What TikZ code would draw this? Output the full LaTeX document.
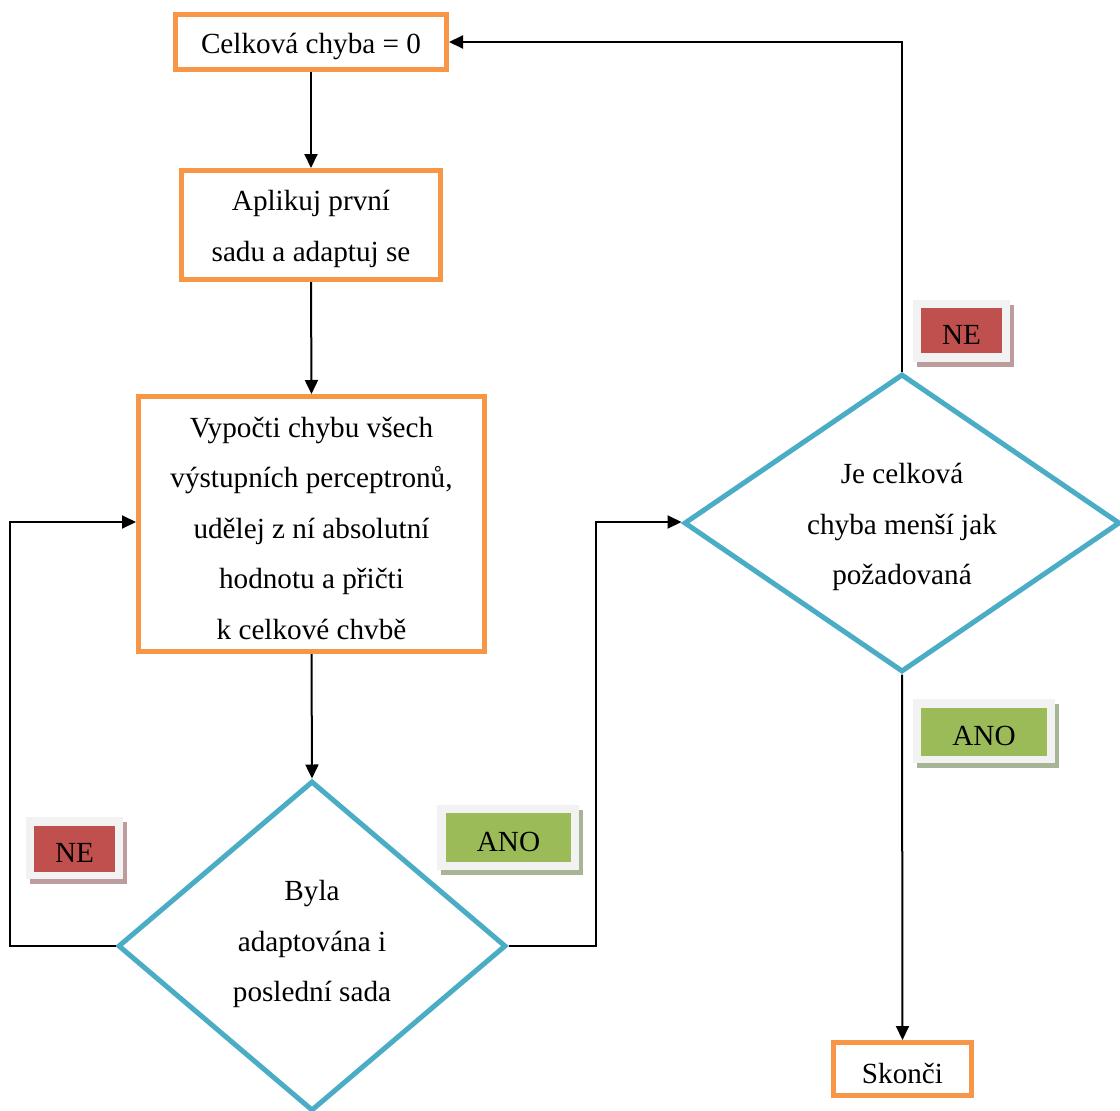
\documentclass[tikz,border=0pt]{standalone}
\usepackage{fontspec}
\setmainfont{Liberation Serif}
\usetikzlibrary{shapes.geometric,arrows.meta}

\definecolor{boxorange}{HTML}{F79646}
\definecolor{diablue}{HTML}{4BACC6}
\definecolor{nered}{HTML}{C0504D}
\definecolor{anogreen}{HTML}{9BBB59}
\definecolor{tagback}{HTML}{F2F2F2}
\definecolor{neshadow}{HTML}{BC9C9C}
\definecolor{anoshadow}{HTML}{A8B496}

\tikzset{
  txt/.style={font=\fontsize{29.2pt}{50.5pt}\selectfont, align=center},
  boxtext/.style={label={[txt,yshift=-4pt]center:#1}},
  procbox/.style={draw=boxorange, line width=5pt, fill=white, inner sep=0pt},
  decision/.style={diamond, draw=diablue, line width=5pt, fill=white, inner sep=0pt},
  flow/.style={line width=2pt, -{Triangle[length=14pt,width=13pt]}},
  tagframe/.style={fill=tagback, inner sep=0pt},
  tagfill/.style={inner sep=0pt}
}

\begin{document}
\begin{tikzpicture}[x=1pt,y=-1pt]
  \useasboundingbox (0,0) rectangle (1120,1111);
  \clip (0,0) rectangle (1120,1111);

  % process boxes
  \node[procbox, minimum width=271pt, minimum height=55pt,
        boxtext={Celková chyba = 0}] (b1) at (311,42) {};
  \node[procbox, minimum width=259pt, minimum height=109pt,
        boxtext={Aplikuj první\\sadu a adaptuj se}] (b2) at (311,225) {};
  \node[procbox, minimum width=346pt, minimum height=255pt,
        boxtext={Vypočti chybu všech\\výstupních perceptronů,\\udělej z ní absolutní\\hodnotu a přičti\\k celkové chvbě}]
        (b3) at (311.5,524) {};
  \node[procbox, minimum width=138pt, minimum height=53pt,
        boxtext={Skonči}] (b4) at (902.5,1069) {};

  % decisions
  \node[decision, minimum width=388pt, minimum height=330pt] (d1) at (312,946) {};
  \node[txt] (d1t) at (312,944) {Byla\\adaptována i\\poslední sada};
  \node[decision, minimum width=436pt, minimum height=298pt] (d2) at (902,523) {};
  \node[txt] (d2t) at (902,527) {Je celková\\chyba menší jak\\požadovaná};

  % bend points of the loops
  \coordinate (lp) at (10,522);
  \coordinate (rp) at (596,522);

  % connectors
  \draw[flow] (b1.south) -- (b2.north);
  \draw[flow] (b2.south) -- (b3.north);
  \draw[flow] (b3.south) -- (d1.north);
  \draw[flow] (d1.west) -- (d1.west -| lp) -- (lp) -- (b3.west |- lp);
  \draw[flow] (d1.east) -- (d1.east -| rp) -- (rp) -- (d2.west |- rp);
  \draw[flow] (d2.north) |- (b1.east);
  \draw[flow] (d2.south) -- (b4.north);

  % answer tags
  \fill[neshadow] (917,305) rectangle (1014,367);
  \node[tagframe, minimum width=97pt, minimum height=62pt] (t1) at (961.5,331) {};
  \node[tagfill, fill=nered, minimum width=81pt, minimum height=45pt,
        boxtext={NE}] (t1f) at (961.5,330.5) {};

  \fill[neshadow] (30,822) rectangle (127,884);
  \node[tagframe, minimum width=97pt, minimum height=62pt] (t2) at (74.5,848) {};
  \node[tagfill, fill=nered, minimum width=81pt, minimum height=46pt,
        boxtext={NE}] (t2f) at (74.5,849) {};

  \fill[anoshadow] (441,810) rectangle (583,875);
  \node[tagframe, minimum width=142pt, minimum height=65pt] (t3) at (508,837.5) {};
  \node[tagfill, fill=anogreen, minimum width=125pt, minimum height=49pt,
        boxtext={ANO}] (t3f) at (508.5,837.5) {};

  \fill[anoshadow] (917,704) rectangle (1059,768);
  \node[tagframe, minimum width=142pt, minimum height=64pt] (t4) at (984,731) {};
  \node[tagfill, fill=anogreen, minimum width=126pt, minimum height=48pt,
        boxtext={ANO}] (t4f) at (984,732) {};
\end{tikzpicture}
\end{document}
